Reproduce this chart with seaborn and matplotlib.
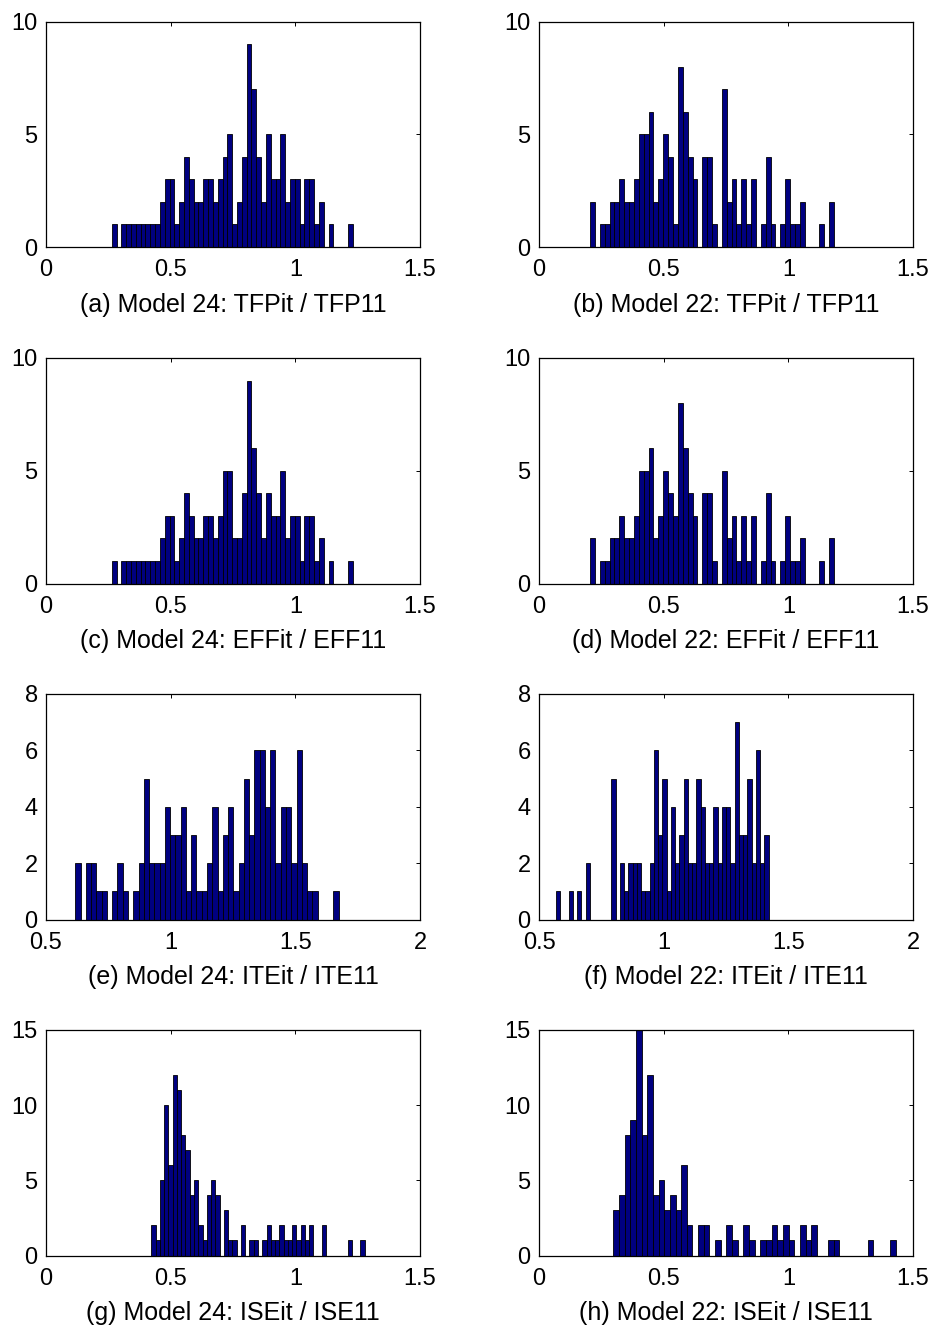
import numpy as np
import pandas as pd
import matplotlib
matplotlib.use("Agg")
import matplotlib.pyplot as plt
from matplotlib.ticker import FormatStrFormatter
import seaborn as sns

# ---- data: 50-bin histogram counts ----
a_counts = [1,0,1,1,1,1,1,1,1,1,2,3,3,1,2,4,3,2,2,3,3,2,3,4,5,1,2,4,9,7,
            4,2,5,3,3,5,2,3,3,1,3,3,1,2,0,1,0,0,0,1]
a_range = (0.2635, 1.230)
b_counts = [2,0,1,1,2,2,3,2,2,3,5,5,6,2,3,5,4,1,8,6,4,3,0,4,4,1,0,7,2,3,
            1,3,1,3,0,1,4,1,0,1,3,1,1,2,0,0,0,1,0,2]
b_range = (0.2046, 1.1833)
c_counts = [1,0,1,1,1,1,1,1,1,1,2,3,3,1,2,4,3,2,2,3,3,2,3,5,5,2,2,4,9,6,
            4,2,4,3,3,5,2,3,3,1,3,3,1,2,0,1,0,0,0,1]
c_range = (0.2635, 1.230)
d_counts = [2,0,1,1,2,2,3,2,2,3,5,5,6,2,3,5,4,3,8,6,4,3,0,4,4,1,0,5,2,3,
            1,3,1,3,0,1,4,1,0,1,3,1,1,2,0,0,0,1,0,2]
d_range = (0.2046, 1.1833)
e_counts = [2,0,2,2,1,1,0,1,2,1,0,1,2,5,2,2,2,4,3,3,4,1,3,1,1,2,4,1,3,4,
            1,2,5,3,6,6,4,6,2,4,4,2,6,2,1,1,0,0,0,1]
e_range = (0.6175, 1.674)
f_counts = [1,0,0,1,0,1,0,2,0,0,0,0,0,5,0,2,1,2,2,2,1,1,2,6,3,5,1,4,2,3,
            5,2,2,5,4,2,2,4,2,4,4,2,7,3,3,5,2,6,2,3]
f_range = (0.568, 1.421)
g_counts = [2,1,5,10,6,12,11,8,7,4,5,2,1,4,5,4,0,3,1,1,0,2,0,1,1,0,1,2,1,1,
            2,1,1,2,1,2,1,2,0,0,2,0,0,0,0,0,1,0,0,1]
g_range = (0.4225, 1.278)
h_counts = [3,4,8,9,15,8,12,4,5,3,4,3,6,2,0,2,2,0,1,0,2,1,0,2,1,0,1,1,2,1,
            2,1,0,2,1,2,0,0,1,1,0,0,0,0,0,1,0,0,0,1]
h_range = (0.298, 1.432)

captions = ["(a) Model 24: TFPit / TFP11", "(b) Model 22: TFPit / TFP11",
            "(c) Model 24: EFFit / EFF11", "(d) Model 22: EFFit / EFF11",
            "(e) Model 24: ITEit / ITE11", "(f) Model 22: ITEit / ITE11",
            "(g) Model 24: ISEit / ISE11", "(h) Model 22: ISEit / ISE11"]

xticks_std = [0, 0.5, 1, 1.5]
xticks_ite = [0.5, 1, 1.5, 2]
yticks_10 = [0, 5, 10]
yticks_8 = [0, 2, 4, 6, 8]
yticks_15 = [0, 5, 10, 15]

panels = [
    (a_counts, a_range, xticks_std, yticks_10),
    (b_counts, b_range, xticks_std, yticks_10),
    (c_counts, c_range, xticks_std, yticks_10),
    (d_counts, d_range, xticks_std, yticks_10),
    (e_counts, e_range, xticks_ite, yticks_8),
    (f_counts, f_range, xticks_ite, yticks_8),
    (g_counts, g_range, xticks_std, yticks_15),
    (h_counts, h_range, xticks_std, yticks_15),
]

sns.set_style("white")
plt.rcParams['font.family'] = ['Liberation Sans', 'DejaVu Sans']
plt.rcParams['text.color'] = 'black'
plt.rcParams['axes.labelcolor'] = 'black'

W, H = 938, 1329
fig = plt.figure(figsize=(W / 100, H / 100), dpi=100)
fig.patch.set_facecolor("white")

col_left = [46, 539]
row_top = [21.5, 358, 694, 1030]
ax_w, ax_h = 374, 225.5

for i, (counts, rng, xt, yt) in enumerate(panels):
    r, c = divmod(i, 2)
    left = col_left[c] / W
    bottom = 1 - (row_top[r] + ax_h) / H
    ax = fig.add_axes([left, bottom, ax_w / W, ax_h / H])
    nb = len(counts)
    width = (rng[1] - rng[0]) / nb
    centers = rng[0] + width * (np.arange(nb) + 0.5)
    df = pd.DataFrame({"value": centers, "count": np.asarray(counts, dtype=float)})
    sns.histplot(data=df, x="value", weights="count", bins=nb,
                 binrange=rng, ax=ax, color="#000080", edgecolor="black",
                 linewidth=0.6, alpha=1.0)
    ax.set_xlim(xt[0], xt[-1])
    ax.set_ylim(yt[0], yt[-1])
    ax.set_xticks(xt)
    ax.set_yticks(yt)
    ax.xaxis.set_major_formatter(FormatStrFormatter('%g'))
    ax.yaxis.set_major_formatter(FormatStrFormatter('%g'))
    ax.set_ylabel("")
    ax.set_xlabel(captions[i], fontsize=18, labelpad=8, color="black")
    ax.tick_params(direction="in", length=3, width=0.7, top=True, right=True,
                   labelsize=17, colors="black")
    ax.tick_params(axis="x", pad=9)
    ax.tick_params(axis="y", pad=6)
    for sp in ax.spines.values():
        sp.set_visible(True)
        sp.set_color("black")
        sp.set_linewidth(0.9)
    ax.grid(False)

fig.savefig("out.png", dpi=100, facecolor="white")
